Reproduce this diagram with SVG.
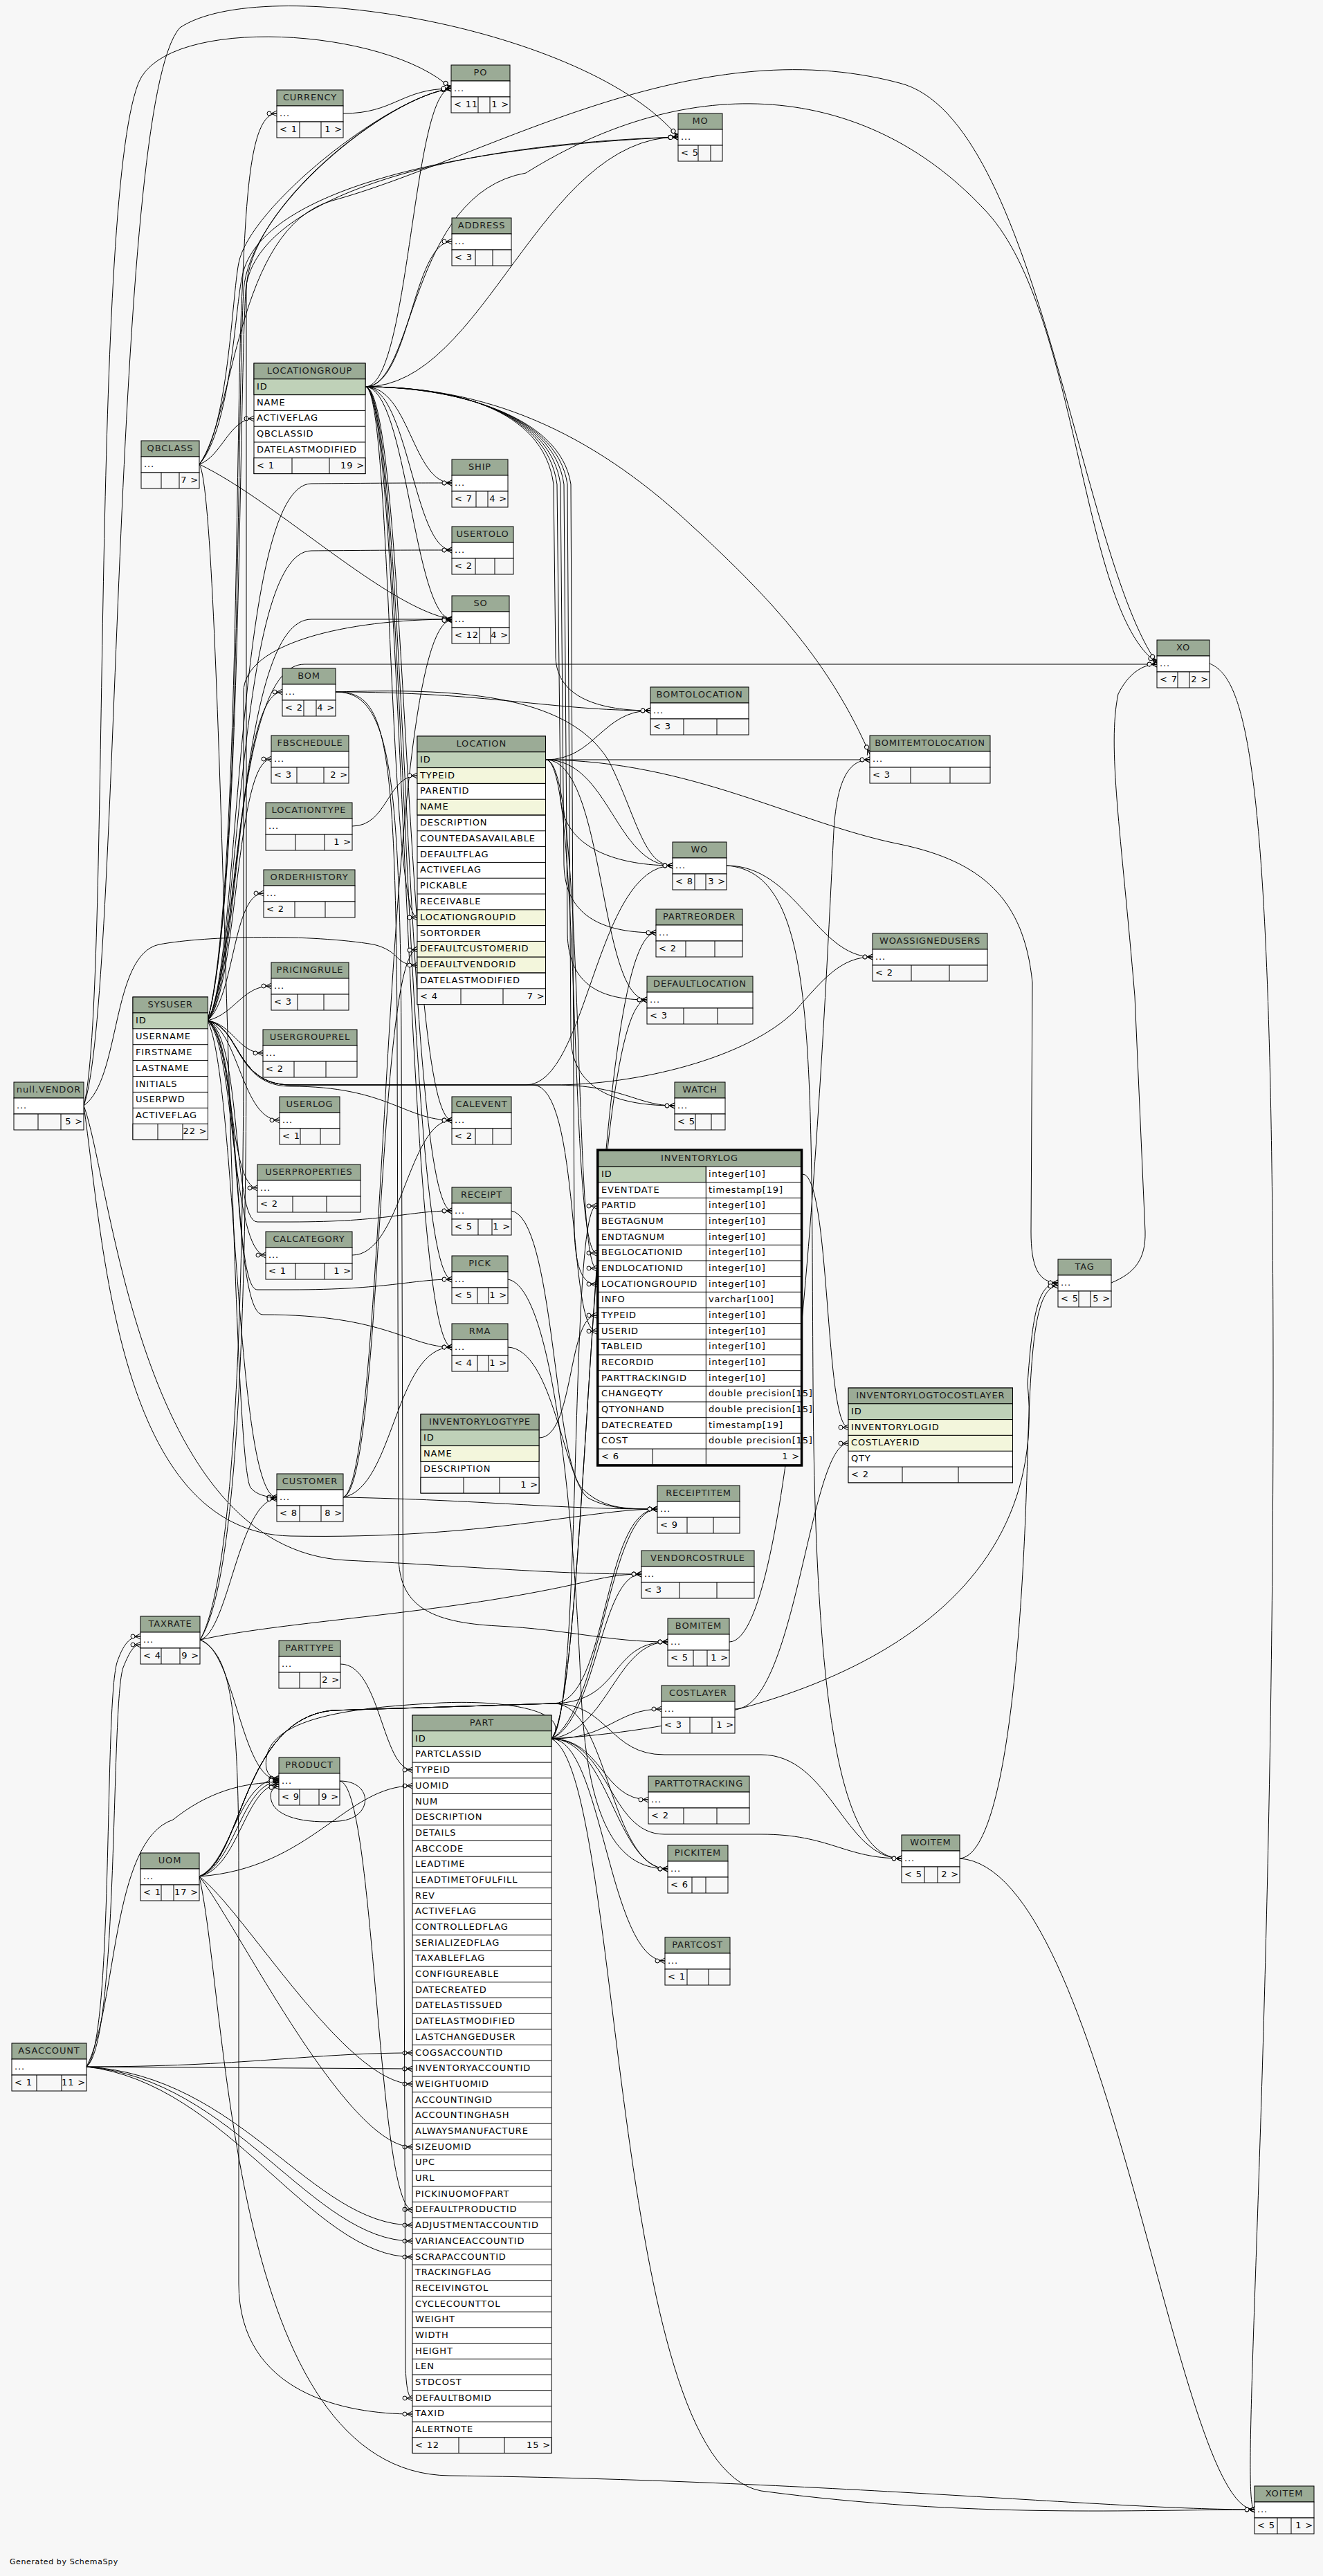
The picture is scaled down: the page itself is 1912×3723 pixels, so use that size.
<svg xmlns="http://www.w3.org/2000/svg" width="1912" height="3723" viewBox="0 0 1912 3723">
<defs>
<style>
.h{fill:#9bab96;stroke:#000}
.k{fill:#bfd1b8;stroke:#000}
.y{fill:#f3f6dc;stroke:#000}
.w{fill:#fff;stroke:#000}
.f{fill:#f7f7f7;stroke:#000}
.d{stroke:#000;fill:none}
text{font-family:"DejaVu Sans","Liberation Sans",sans-serif;font-size:13px;letter-spacing:0.85px;fill:#000}
.n{text-anchor:middle;fill:#1a1a1a}
.r{text-anchor:end}
.e{fill:none;stroke:#000;stroke-width:1;marker-end:url(#cf)}
.bold{fill:none;stroke:#000;stroke-width:3}
</style>
<marker id="cf" viewBox="-15 -6 16 12" refX="0" refY="0" markerWidth="16" markerHeight="12" markerUnits="userSpaceOnUse" orient="auto">
<path d="M-8,0 L0,-4 M-8,0 L0,4 M-8,0 L0,0" stroke="#000" fill="none"/>
<circle cx="-11" cy="0" r="3" fill="#f7f7f7" stroke="#000"/>
</marker>
</defs>
<rect x="0" y="0" width="1912" height="3723" fill="#f7f7f7"/>

<g id="connectors">
<!-- LOCATIONGROUP -->
<path class="e" d="M528,559 C592,559 596,128 652,128"/>
<path class="e" d="M528,559 C700,559 780,198 980,198"/>
<path class="e" d="M528,559 C592,559 596,349 653,349"/>
<path class="e" d="M528,559 C592,559 596,698 653,698"/>
<path class="e" d="M528,559 C590,559 598,795 653,795"/>
<path class="e" d="M528,559 C588,559 598,895 653,895"/>
<path class="e" d="M528,559 C600,559 590,280 760,250 C1000,100 1250,120 1420,300 C1560,440 1560,880 1672,958"/>
<path class="e" d="M528,559 C650,559 790,590 805,700 L810,1150 C812,1230 900,1251 972,1251"/>
<path class="e" d="M528,559 C650,559 795,592 810,700 L815,1250 C817,1330 880,1348 948,1348"/>
<path class="e" d="M528,559 C650,559 800,594 815,700 L820,1350 C822,1425 870,1445 935,1445"/>
<path class="e" d="M528,559 C586,559 585,1750 653,1750"/>
<path class="e" d="M528,559 C584,559 585,1849 653,1849"/>
<path class="e" d="M528,559 C582,559 585,1947 653,1947"/>
<path class="e" d="M528,559 C566,559 562,1326 603,1326"/>
<path class="e" d="M528,559 C650,559 810,598 825,700 L830,1780 C832,1840 845,1856 862,1856"/>
<path class="e" d="M528,559 C650,559 785,588 800,700 L803,950 C805,1010 870,1027 940,1027"/>
<path class="e" d="M528,559 C650,559 805,596 820,700 L825,1500 C827,1580 900,1598 975,1598"/>
<path class="e" d="M528,559 C588,559 585,1619 653,1619"/>
<path class="e" d="M528,559 C700,559 850,620 1000,760 C1120,870 1200,960 1257,1090"/>
<!-- SYSUSER -->
<path class="e" d="M300,1475 C346,1300 340,600 350,420 C356,280 362,164 400,164"/>
<path class="e" d="M300,1475 C348,1300 342,600 352,420 C360,300 560,140 652,128"/>
<path class="e" d="M300,1475 C348,1300 345,600 355,420 C365,300 600,210 980,198"/>
<path class="e" d="M300,1475 C348,1400 342,895 450,895 L653,895"/>
<path class="e" d="M300,1475 C348,1400 340,797 450,796 C560,795 600,795 653,795"/>
<path class="e" d="M300,1475 C348,1400 338,700 450,699 C560,698 600,698 653,698"/>
<path class="e" d="M300,1475 C346,1400 336,960 440,960 L1672,960"/>
<path class="e" d="M300,1475 C346,1420 340,1000 408,1000"/>
<path class="e" d="M300,1475 C344,1430 340,1097 392,1097"/>
<path class="e" d="M300,1475 C340,1440 336,1291 381,1291"/>
<path class="e" d="M300,1475 C340,1465 350,1425 392,1425"/>
<path class="e" d="M300,1475 C336,1480 345,1522 380,1522"/>
<path class="e" d="M300,1475 C345,1490 350,1619 404,1619"/>
<path class="e" d="M300,1475 C338,1500 330,1717 372,1717"/>
<path class="e" d="M300,1475 C340,1510 334,1814 384,1814"/>
<path class="e" d="M300,1475 C348,1485 340,1570 420,1570 C560,1570 585,1619 653,1619"/>
<path class="e" d="M300,1475 C350,1495 335,1766 372,1766 L420,1766 C560,1766 590,1750 653,1750"/>
<path class="e" d="M300,1475 C350,1500 335,1864 372,1864 L420,1864 C560,1864 595,1849 653,1849"/>
<path class="e" d="M300,1475 C350,1510 335,1900 380,1900 C560,1900 590,1947 653,1947"/>
<path class="e" d="M300,1475 C348,1485 340,1568 420,1568 L760,1568 C850,1568 860,1251 972,1251"/>
<path class="e" d="M300,1475 C348,1485 340,1568 420,1568 L800,1568 C920,1568 1080,1530 1150,1460 C1190,1415 1215,1383 1261,1383"/>
<path class="e" d="M300,1475 C348,1485 340,1568 420,1568 L800,1568 C900,1568 920,1598 975,1598"/>
<path class="e" d="M300,1475 C348,1485 340,1568 420,1568 L770,1568 C840,1568 820,1924 862,1924"/>
<path class="e" d="M300,1475 C342,1560 340,2164 400,2164"/>
<!-- QBCLASS -->
<path class="e" d="M288,671 C320,660 332,605 367,605"/>
<path class="e" d="M288,671 C330,620 335,430 345,380 C360,300 560,140 652,128"/>
<path class="e" d="M288,671 C334,620 340,440 350,400 C370,290 600,215 980,198"/>
<path class="e" d="M288,671 C400,725 560,880 653,895"/>
<path class="e" d="M288,671 C340,600 340,330 480,290 C700,230 1000,40 1300,120 C1500,170 1560,800 1672,958"/>
<path class="e" d="M288,671 C322,720 332,2100 362,2150 C370,2160 385,2164 400,2164"/>
<!-- null.VENDOR -->
<path class="e" d="M121,1598 C160,1450 130,300 200,120 C240,20 560,40 652,128"/>
<path class="e" d="M121,1598 C175,1450 160,150 260,40 C380,-40 850,40 980,198"/>
<path class="e" d="M121,1598 C175,1560 160,1380 230,1365 C300,1352 450,1350 540,1365 C580,1375 570,1395 603,1395"/>
<path class="e" d="M121,1598 C160,1700 200,2240 500,2255 C700,2265 800,2275 927,2275"/>
<path class="e" d="M121,1598 C150,1800 170,2215 420,2220 C700,2225 850,2181 950,2181"/>
<!-- LOCATION -->
<path class="e" d="M789,1098 C860,1098 870,1027 940,1027"/>
<path class="e" d="M789,1098 L1257,1098"/>
<path class="e" d="M789,1098 C880,1098 890,1251 972,1251"/>
<path class="e" d="M789,1098 C875,1098 865,1445 935,1445"/>
<path class="e" d="M789,1098 C840,1098 822,1811 862,1811"/>
<path class="e" d="M789,1098 C846,1098 828,1833 862,1833"/>
<path class="e" d="M789,1098 C1000,1100 1150,1190 1300,1220 C1420,1245 1480,1300 1492,1420 L1490,1780 C1490,1830 1500,1854 1529,1854"/>
<!-- PART -->
<path class="e" d="M797,2513 C842,2480 822,1743 862,1743"/>
<path class="e" d="M797,2513 C830,2470 720,2455 620,2462 C520,2468 395,2480 385,2540 C382,2562 390,2570 403,2570"/>
<path class="e" d="M797,2513 C852,2450 852,1348 948,1348"/>
<path class="e" d="M797,2513 C850,2450 850,1445 935,1445"/>
<path class="e" d="M797,2513 C870,2470 880,2181 950,2181"/>
<path class="e" d="M797,2513 C862,2485 868,2275 927,2275"/>
<path class="e" d="M797,2513 C880,2500 890,2373 965,2373"/>
<path class="e" d="M797,2513 C880,2513 890,2470 956,2470"/>
<path class="e" d="M797,2513 C870,2513 870,2601 937,2601"/>
<path class="e" d="M797,2513 C880,2513 890,2701 965,2701"/>
<path class="e" d="M797,2513 C870,2513 880,2834 961,2834"/>
<path class="e" d="M797,2513 C880,2513 880,2651 960,2651 L1100,2651 C1200,2651 1220,2686 1303,2686"/>
<path class="e" d="M797,2513 C900,2560 880,3560 1100,3600 C1400,3640 1650,3627 1813,3627"/>
<path class="e" d="M797,2513 C1150,2490 1520,2350 1485,2000 C1492,1900 1500,1854 1529,1854"/>
<!-- UOM -->
<path class="e" d="M288,2712 C450,2700 500,2581 596,2581"/>
<path class="e" d="M288,2712 C352,2760 500,3012 596,3012"/>
<path class="e" d="M288,2712 C342,2780 500,3103 596,3103"/>
<path class="e" d="M288,2712 C335,2690 345,2571 403,2571"/>
<path class="e" d="M288,2712 C340,2695 350,2575 403,2575"/>
<path class="e" d="M288,2712 C345,2700 355,2579 403,2579"/>
<path class="e" d="M288,2712 C350,2690 350,2485 480,2472 L800,2462 C880,2460 870,2181 950,2181"/>
<path class="e" d="M288,2712 C350,2690 350,2485 480,2472 L800,2462 C900,2460 880,2373 965,2373"/>
<path class="e" d="M288,2712 C350,2690 350,2485 480,2472 L800,2462 C880,2462 880,2701 965,2701"/>
<path class="e" d="M288,2712 C350,2690 350,2485 480,2472 L800,2462 C880,2462 880,2536 960,2536 L1100,2536 C1200,2536 1220,2686 1303,2686"/>
<path class="e" d="M288,2712 C330,2900 330,3575 650,3578 C1200,3585 1600,3627 1813,3627"/>
<!-- ASACCOUNT -->
<path class="e" d="M125,2987 C350,2987 450,2967 596,2967"/>
<path class="e" d="M125,2987 L596,2990"/>
<path class="e" d="M125,2987 C350,3000 450,3216 596,3216"/>
<path class="e" d="M125,2987 C340,3005 450,3239 596,3239"/>
<path class="e" d="M125,2987 C330,3010 450,3262 596,3262"/>
<path class="e" d="M125,2987 C165,2950 150,2450 170,2400 C180,2372 190,2365 203,2365"/>
<path class="e" d="M125,2987 C172,2950 160,2460 178,2410 C188,2385 194,2377 203,2377"/>
<path class="e" d="M125,2987 C170,2900 160,2660 250,2630 C300,2590 350,2576 403,2576"/>
<!-- TAXRATE -->
<path class="e" d="M289,2370 C330,2390 345,2450 345,2700 L345,3300 C345,3460 500,3489 596,3489"/>
<path class="e" d="M289,2370 C330,2360 345,2168 400,2166"/>
<path class="e" d="M289,2370 C340,2385 348,2573 403,2573"/>
<path class="e" d="M289,2370 C330,2300 352,2000 352,1500 L352,1000 C352,930 500,895 653,895"/>
<path class="e" d="M289,2370 C335,2300 356,2000 356,1500 L356,420 C356,300 560,140 652,128"/>
<path class="e" d="M289,2370 C400,2345 600,2335 780,2300 C860,2285 880,2275 927,2275"/>
<!-- PRODUCT -->
<path class="e" d="M491,2574 C542,2580 545,3190 596,3194"/>
<path class="e" d="M491,2574 C540,2574 540,2628 490,2632 C440,2636 398,2626 392,2602 C389,2590 394,2583 403,2582"/>
<!-- CUSTOMER -->
<path class="e" d="M496,2164 C552,2150 545,1378 603,1372"/>
<path class="e" d="M496,2164 C560,2140 552,900 653,896"/>
<path class="e" d="M496,2164 C700,2168 800,2181 950,2181"/>
<path class="e" d="M496,2164 C570,2150 570,1947 653,1947"/>
<!-- misc -->
<path class="e" d="M496,164 C570,164 580,128 652,128"/>
<path class="e" d="M485,1000 C700,1000 800,1027 940,1027"/>
<path class="e" d="M485,1000 C560,1000 578,1100 580,1500 L586,3420 C587,3450 590,3466 596,3466"/>
<path class="e" d="M485,1000 C555,1000 572,1050 574,1500 L576,2250 C577,2320 620,2345 720,2350 C820,2355 880,2373 965,2373"/>
<path class="e" d="M485,1000 C650,995 820,1000 880,1100 C920,1180 930,1251 972,1251"/>
<path class="e" d="M509,1194 C560,1194 560,1121 603,1121"/>
<path class="e" d="M509,1814 C580,1814 590,1619 653,1619"/>
<path class="e" d="M739,1750 C800,1760 800,2100 840,2150 C870,2180 900,2181 950,2181"/>
<path class="e" d="M734,1849 C800,1860 830,2200 840,2450 C850,2650 900,2701 965,2701"/>
<path class="e" d="M734,1947 C800,1950 815,2140 850,2165 C880,2181 910,2181 950,2181"/>
<path class="e" d="M779,2078 C830,2078 820,1901 862,1901"/>
<path class="e" d="M1160,1697 C1200,1697 1192,2063 1226,2063"/>
<path class="e" d="M1062,2470 C1150,2470 1170,2086 1226,2086"/>
<path class="e" d="M492,2405 C550,2405 552,2558 596,2558"/>
<path class="e" d="M1054,2373 C1150,2373 1190,1500 1205,1200 C1210,1120 1230,1098 1257,1098"/>
<path class="e" d="M1050,1251 C1150,1251 1180,1383 1261,1383"/>
<path class="e" d="M1050,1251 C1180,1260 1172,1500 1175,2000 C1178,2500 1220,2686 1303,2686"/>
<path class="e" d="M1606,1854 C1640,1840 1656,1820 1655,1780 L1640,1440 C1620,1200 1600,1080 1616,1003 C1630,975 1650,960 1672,960"/>
<path class="e" d="M1387,2686 C1600,2700 1700,3627 1813,3627"/>
<path class="e" d="M1387,2686 C1460,2680 1480,2300 1485,2100 C1490,1950 1495,1860 1529,1858"/>
<path class="e" d="M1748,959 C1800,980 1840,1100 1840,2000 C1840,3000 1790,3627 1813,3627"/>
</g>

<g id="node-PO"><rect class="h" x="652" y="94" width="85" height="23"/><rect class="w" x="652" y="117" width="85" height="23"/><rect class="f" x="652" y="140" width="85" height="23"/><path class="d" d="M691,140v23M708,140v23"/><text class="n" x="694.5" y="109">PO</text><text x="656" y="132">...</text><text x="656" y="155">&lt; 11</text><text class="r" x="736" y="155">1 &gt;</text></g>
<g id="node-CURRENCY"><rect class="h" x="400" y="130" width="96" height="23"/><rect class="w" x="400" y="153" width="96" height="23"/><rect class="f" x="400" y="176" width="96" height="23"/><path class="d" d="M433,176v23M464,176v23"/><text class="n" x="448" y="145">CURRENCY</text><text x="404" y="168">...</text><text x="404" y="191">&lt; 1</text><text class="r" x="495" y="191">1 &gt;</text></g>
<g id="node-MO"><rect class="h" x="980" y="164" width="64" height="23"/><rect class="w" x="980" y="187" width="64" height="23"/><rect class="f" x="980" y="210" width="64" height="23"/><path class="d" d="M1009,210v23M1027,210v23"/><text class="n" x="1012" y="179">MO</text><text x="984" y="202">...</text><text x="984" y="225">&lt; 5</text></g>
<g id="node-ADDRESS"><rect class="h" x="653" y="315" width="86" height="23"/><rect class="w" x="653" y="338" width="86" height="23"/><rect class="f" x="653" y="361" width="86" height="23"/><path class="d" d="M687,361v23M712,361v23"/><text class="n" x="696" y="330">ADDRESS</text><text x="657" y="353">...</text><text x="657" y="376">&lt; 3</text></g>
<g id="node-QBCLASS"><rect class="h" x="204" y="637" width="84" height="23"/><rect class="w" x="204" y="660" width="84" height="23"/><rect class="f" x="204" y="683" width="84" height="23"/><path class="d" d="M233,683v23M259,683v23"/><text class="n" x="246" y="652">QBCLASS</text><text x="208" y="675">...</text><text class="r" x="287" y="698">7 &gt;</text></g>
<g id="node-SHIP"><rect class="h" x="653" y="664" width="81" height="23"/><rect class="w" x="653" y="687" width="81" height="23"/><rect class="f" x="653" y="710" width="81" height="23"/><path class="d" d="M688,710v23M705,710v23"/><text class="n" x="693.5" y="679">SHIP</text><text x="657" y="702">...</text><text x="657" y="725">&lt; 7</text><text class="r" x="733" y="725">4 &gt;</text></g>
<g id="node-USERTOLO"><rect class="h" x="653" y="761" width="89" height="23"/><rect class="w" x="653" y="784" width="89" height="23"/><rect class="f" x="653" y="807" width="89" height="23"/><path class="d" d="M687,807v23M715,807v23"/><text class="n" x="697.5" y="776">USERTOLO</text><text x="657" y="799">...</text><text x="657" y="822">&lt; 2</text></g>
<g id="node-SO"><rect class="h" x="653" y="861" width="83" height="23"/><rect class="w" x="653" y="884" width="83" height="23"/><rect class="f" x="653" y="907" width="83" height="23"/><path class="d" d="M693,907v23M709,907v23"/><text class="n" x="694.5" y="876">SO</text><text x="657" y="899">...</text><text x="657" y="922">&lt; 12</text><text class="r" x="735" y="922">4 &gt;</text></g>
<g id="node-XO"><rect class="h" x="1672" y="925" width="76" height="23"/><rect class="w" x="1672" y="948" width="76" height="23"/><rect class="f" x="1672" y="971" width="76" height="23"/><path class="d" d="M1702,971v23M1719,971v23"/><text class="n" x="1710" y="940">XO</text><text x="1676" y="963">...</text><text x="1676" y="986">&lt; 7</text><text class="r" x="1747" y="986">2 &gt;</text></g>
<g id="node-BOM"><rect class="h" x="408" y="966" width="77" height="23"/><rect class="w" x="408" y="989" width="77" height="23"/><rect class="f" x="408" y="1012" width="77" height="23"/><path class="d" d="M439,1012v23M457,1012v23"/><text class="n" x="446.5" y="981">BOM</text><text x="412" y="1004">...</text><text x="412" y="1027">&lt; 2</text><text class="r" x="484" y="1027">4 &gt;</text></g>
<g id="node-BOMTOLOCATION"><rect class="h" x="940" y="993" width="142" height="23"/><rect class="w" x="940" y="1016" width="142" height="23"/><rect class="f" x="940" y="1039" width="142" height="23"/><path class="d" d="M988,1039v23M1036,1039v23"/><text class="n" x="1011" y="1008">BOMTOLOCATION</text><text x="944" y="1031">...</text><text x="944" y="1054">&lt; 3</text></g>
<g id="node-FBSCHEDULE"><rect class="h" x="392" y="1063" width="112" height="23"/><rect class="w" x="392" y="1086" width="112" height="23"/><rect class="f" x="392" y="1109" width="112" height="23"/><path class="d" d="M429,1109v23M468,1109v23"/><text class="n" x="448" y="1078">FBSCHEDULE</text><text x="396" y="1101">...</text><text x="396" y="1124">&lt; 3</text><text class="r" x="503" y="1124">2 &gt;</text></g>
<g id="node-BOMITEMTOLOCATION"><rect class="h" x="1257" y="1063" width="174" height="23"/><rect class="w" x="1257" y="1086" width="174" height="23"/><rect class="f" x="1257" y="1109" width="174" height="23"/><path class="d" d="M1316,1109v23M1373,1109v23"/><text class="n" x="1344" y="1078">BOMITEMTOLOCATION</text><text x="1261" y="1101">...</text><text x="1261" y="1124">&lt; 3</text></g>
<g id="node-LOCATIONTYPE"><rect class="h" x="384" y="1160" width="125" height="23"/><rect class="w" x="384" y="1183" width="125" height="23"/><rect class="f" x="384" y="1206" width="125" height="23"/><path class="d" d="M427,1206v23M469,1206v23"/><text class="n" x="446.5" y="1175">LOCATIONTYPE</text><text x="388" y="1198">...</text><text class="r" x="508" y="1221">1 &gt;</text></g>
<g id="node-WO"><rect class="h" x="972" y="1217" width="78" height="23"/><rect class="w" x="972" y="1240" width="78" height="23"/><rect class="f" x="972" y="1263" width="78" height="23"/><path class="d" d="M1004,1263v23M1020,1263v23"/><text class="n" x="1011" y="1232">WO</text><text x="976" y="1255">...</text><text x="976" y="1278">&lt; 8</text><text class="r" x="1049" y="1278">3 &gt;</text></g>
<g id="node-ORDERHISTORY"><rect class="h" x="381" y="1257" width="132" height="23"/><rect class="w" x="381" y="1280" width="132" height="23"/><rect class="f" x="381" y="1303" width="132" height="23"/><path class="d" d="M426,1303v23M470,1303v23"/><text class="n" x="447" y="1272">ORDERHISTORY</text><text x="385" y="1295">...</text><text x="385" y="1318">&lt; 2</text></g>
<g id="node-PARTREORDER"><rect class="h" x="948" y="1314" width="125" height="23"/><rect class="w" x="948" y="1337" width="125" height="23"/><rect class="f" x="948" y="1360" width="125" height="23"/><path class="d" d="M991,1360v23M1033,1360v23"/><text class="n" x="1010.5" y="1329">PARTREORDER</text><text x="952" y="1352">...</text><text x="952" y="1375">&lt; 2</text></g>
<g id="node-WOASSIGNEDUSERS"><rect class="h" x="1261" y="1349" width="166" height="23"/><rect class="w" x="1261" y="1372" width="166" height="23"/><rect class="f" x="1261" y="1395" width="166" height="23"/><path class="d" d="M1317,1395v23M1372,1395v23"/><text class="n" x="1344" y="1364">WOASSIGNEDUSERS</text><text x="1265" y="1387">...</text><text x="1265" y="1410">&lt; 2</text></g>
<g id="node-PRICINGRULE"><rect class="h" x="392" y="1391" width="112" height="23"/><rect class="w" x="392" y="1414" width="112" height="23"/><rect class="f" x="392" y="1437" width="112" height="23"/><path class="d" d="M430,1437v23M468,1437v23"/><text class="n" x="448" y="1406">PRICINGRULE</text><text x="396" y="1429">...</text><text x="396" y="1452">&lt; 3</text></g>
<g id="node-DEFAULTLOCATION"><rect class="h" x="935" y="1411" width="153" height="23"/><rect class="w" x="935" y="1434" width="153" height="23"/><rect class="f" x="935" y="1457" width="153" height="23"/><path class="d" d="M988,1457v23M1037,1457v23"/><text class="n" x="1011.5" y="1426">DEFAULTLOCATION</text><text x="939" y="1449">...</text><text x="939" y="1472">&lt; 3</text></g>
<g id="node-USERGROUPREL"><rect class="h" x="380" y="1488" width="136" height="23"/><rect class="w" x="380" y="1511" width="136" height="23"/><rect class="f" x="380" y="1534" width="136" height="23"/><path class="d" d="M425,1534v23M471,1534v23"/><text class="n" x="448" y="1503">USERGROUPREL</text><text x="384" y="1526">...</text><text x="384" y="1549">&lt; 2</text></g>
<g id="node-null.VENDOR"><rect class="h" x="20" y="1564" width="101" height="23"/><rect class="w" x="20" y="1587" width="101" height="23"/><rect class="f" x="20" y="1610" width="101" height="23"/><path class="d" d="M55,1610v23M88,1610v23"/><text class="n" x="70.5" y="1579">null.VENDOR</text><text x="24" y="1602">...</text><text class="r" x="120" y="1625">5 &gt;</text></g>
<g id="node-WATCH"><rect class="h" x="975" y="1564" width="73" height="23"/><rect class="w" x="975" y="1587" width="73" height="23"/><rect class="f" x="975" y="1610" width="73" height="23"/><path class="d" d="M1005,1610v23M1028,1610v23"/><text class="n" x="1011.5" y="1579">WATCH</text><text x="979" y="1602">...</text><text x="979" y="1625">&lt; 5</text></g>
<g id="node-USERLOG"><rect class="h" x="404" y="1585" width="87" height="23"/><rect class="w" x="404" y="1608" width="87" height="23"/><rect class="f" x="404" y="1631" width="87" height="23"/><path class="d" d="M434,1631v23M463,1631v23"/><text class="n" x="447.5" y="1600">USERLOG</text><text x="408" y="1623">...</text><text x="408" y="1646">&lt; 1</text></g>
<g id="node-CALEVENT"><rect class="h" x="653" y="1585" width="86" height="23"/><rect class="w" x="653" y="1608" width="86" height="23"/><rect class="f" x="653" y="1631" width="86" height="23"/><path class="d" d="M687,1631v23M712,1631v23"/><text class="n" x="696" y="1600">CALEVENT</text><text x="657" y="1623">...</text><text x="657" y="1646">&lt; 2</text></g>
<g id="node-USERPROPERTIES"><rect class="h" x="372" y="1683" width="149" height="23"/><rect class="w" x="372" y="1706" width="149" height="23"/><rect class="f" x="372" y="1729" width="149" height="23"/><path class="d" d="M423,1729v23M472,1729v23"/><text class="n" x="446.5" y="1698">USERPROPERTIES</text><text x="376" y="1721">...</text><text x="376" y="1744">&lt; 2</text></g>
<g id="node-RECEIPT"><rect class="h" x="653" y="1716" width="86" height="23"/><rect class="w" x="653" y="1739" width="86" height="23"/><rect class="f" x="653" y="1762" width="86" height="23"/><path class="d" d="M691,1762v23M711,1762v23"/><text class="n" x="696" y="1731">RECEIPT</text><text x="657" y="1754">...</text><text x="657" y="1777">&lt; 5</text><text class="r" x="738" y="1777">1 &gt;</text></g>
<g id="node-CALCATEGORY"><rect class="h" x="384" y="1780" width="125" height="23"/><rect class="w" x="384" y="1803" width="125" height="23"/><rect class="f" x="384" y="1826" width="125" height="23"/><path class="d" d="M427,1826v23M469,1826v23"/><text class="n" x="446.5" y="1795">CALCATEGORY</text><text x="388" y="1818">...</text><text x="388" y="1841">&lt; 1</text><text class="r" x="508" y="1841">1 &gt;</text></g>
<g id="node-PICK"><rect class="h" x="653" y="1815" width="81" height="23"/><rect class="w" x="653" y="1838" width="81" height="23"/><rect class="f" x="653" y="1861" width="81" height="23"/><path class="d" d="M690,1861v23M706,1861v23"/><text class="n" x="693.5" y="1830">PICK</text><text x="657" y="1853">...</text><text x="657" y="1876">&lt; 5</text><text class="r" x="733" y="1876">1 &gt;</text></g>
<g id="node-RMA"><rect class="h" x="653" y="1913" width="81" height="23"/><rect class="w" x="653" y="1936" width="81" height="23"/><rect class="f" x="653" y="1959" width="81" height="23"/><path class="d" d="M690,1959v23M706,1959v23"/><text class="n" x="693.5" y="1928">RMA</text><text x="657" y="1951">...</text><text x="657" y="1974">&lt; 4</text><text class="r" x="733" y="1974">1 &gt;</text></g>
<g id="node-TAG"><rect class="h" x="1529" y="1820" width="77" height="23"/><rect class="w" x="1529" y="1843" width="77" height="23"/><rect class="f" x="1529" y="1866" width="77" height="23"/><path class="d" d="M1559,1866v23M1576,1866v23"/><text class="n" x="1567.5" y="1835">TAG</text><text x="1533" y="1858">...</text><text x="1533" y="1881">&lt; 5</text><text class="r" x="1605" y="1881">5 &gt;</text></g>
<g id="node-CUSTOMER"><rect class="h" x="400" y="2130" width="96" height="23"/><rect class="w" x="400" y="2153" width="96" height="23"/><rect class="f" x="400" y="2176" width="96" height="23"/><path class="d" d="M433,2176v23M464,2176v23"/><text class="n" x="448" y="2145">CUSTOMER</text><text x="404" y="2168">...</text><text x="404" y="2191">&lt; 8</text><text class="r" x="495" y="2191">8 &gt;</text></g>
<g id="node-RECEIPTITEM"><rect class="h" x="950" y="2147" width="119" height="23"/><rect class="w" x="950" y="2170" width="119" height="23"/><rect class="f" x="950" y="2193" width="119" height="23"/><path class="d" d="M993,2193v23M1031,2193v23"/><text class="n" x="1009.5" y="2162">RECEIPTITEM</text><text x="954" y="2185">...</text><text x="954" y="2208">&lt; 9</text></g>
<g id="node-VENDORCOSTRULE"><rect class="h" x="927" y="2241" width="163" height="23"/><rect class="w" x="927" y="2264" width="163" height="23"/><rect class="f" x="927" y="2287" width="163" height="23"/><path class="d" d="M982,2287v23M1036,2287v23"/><text class="n" x="1008.5" y="2256">VENDORCOSTRULE</text><text x="931" y="2279">...</text><text x="931" y="2302">&lt; 3</text></g>
<g id="node-TAXRATE"><rect class="h" x="203" y="2336" width="86" height="23"/><rect class="w" x="203" y="2359" width="86" height="23"/><rect class="f" x="203" y="2382" width="86" height="23"/><path class="d" d="M233,2382v23M260,2382v23"/><text class="n" x="246" y="2351">TAXRATE</text><text x="207" y="2374">...</text><text x="207" y="2397">&lt; 4</text><text class="r" x="288" y="2397">9 &gt;</text></g>
<g id="node-BOMITEM"><rect class="h" x="965" y="2339" width="89" height="23"/><rect class="w" x="965" y="2362" width="89" height="23"/><rect class="f" x="965" y="2385" width="89" height="23"/><path class="d" d="M1002,2385v23M1022,2385v23"/><text class="n" x="1009.5" y="2354">BOMITEM</text><text x="969" y="2377">...</text><text x="969" y="2400">&lt; 5</text><text class="r" x="1053" y="2400">1 &gt;</text></g>
<g id="node-PARTTYPE"><rect class="h" x="403" y="2371" width="89" height="23"/><rect class="w" x="403" y="2394" width="89" height="23"/><rect class="f" x="403" y="2417" width="89" height="23"/><path class="d" d="M433,2417v23M463,2417v23"/><text class="n" x="447.5" y="2386">PARTTYPE</text><text x="407" y="2409">...</text><text class="r" x="491" y="2432">2 &gt;</text></g>
<g id="node-COSTLAYER"><rect class="h" x="956" y="2436" width="106" height="23"/><rect class="w" x="956" y="2459" width="106" height="23"/><rect class="f" x="956" y="2482" width="106" height="23"/><path class="d" d="M997,2482v23M1029,2482v23"/><text class="n" x="1009" y="2451">COSTLAYER</text><text x="960" y="2474">...</text><text x="960" y="2497">&lt; 3</text><text class="r" x="1061" y="2497">1 &gt;</text></g>
<g id="node-PRODUCT"><rect class="h" x="403" y="2540" width="88" height="23"/><rect class="w" x="403" y="2563" width="88" height="23"/><rect class="f" x="403" y="2586" width="88" height="23"/><path class="d" d="M433,2586v23M461,2586v23"/><text class="n" x="447" y="2555">PRODUCT</text><text x="407" y="2578">...</text><text x="407" y="2601">&lt; 9</text><text class="r" x="490" y="2601">9 &gt;</text></g>
<g id="node-PARTTOTRACKING"><rect class="h" x="937" y="2567" width="146" height="23"/><rect class="w" x="937" y="2590" width="146" height="23"/><rect class="f" x="937" y="2613" width="146" height="23"/><path class="d" d="M988,2613v23M1036,2613v23"/><text class="n" x="1010" y="2582">PARTTOTRACKING</text><text x="941" y="2605">...</text><text x="941" y="2628">&lt; 2</text></g>
<g id="node-UOM"><rect class="h" x="203" y="2678" width="85" height="23"/><rect class="w" x="203" y="2701" width="85" height="23"/><rect class="f" x="203" y="2724" width="85" height="23"/><path class="d" d="M233,2724v23M251,2724v23"/><text class="n" x="245.5" y="2693">UOM</text><text x="207" y="2716">...</text><text x="207" y="2739">&lt; 1</text><text class="r" x="287" y="2739">17 &gt;</text></g>
<g id="node-PICKITEM"><rect class="h" x="965" y="2667" width="87" height="23"/><rect class="w" x="965" y="2690" width="87" height="23"/><rect class="f" x="965" y="2713" width="87" height="23"/><path class="d" d="M1000,2713v23M1020,2713v23"/><text class="n" x="1008.5" y="2682">PICKITEM</text><text x="969" y="2705">...</text><text x="969" y="2728">&lt; 6</text></g>
<g id="node-WOITEM"><rect class="h" x="1303" y="2652" width="84" height="23"/><rect class="w" x="1303" y="2675" width="84" height="23"/><rect class="f" x="1303" y="2698" width="84" height="23"/><path class="d" d="M1336,2698v23M1355,2698v23"/><text class="n" x="1345" y="2667">WOITEM</text><text x="1307" y="2690">...</text><text x="1307" y="2713">&lt; 5</text><text class="r" x="1386" y="2713">2 &gt;</text></g>
<g id="node-PARTCOST"><rect class="h" x="961" y="2800" width="94" height="23"/><rect class="w" x="961" y="2823" width="94" height="23"/><rect class="f" x="961" y="2846" width="94" height="23"/><path class="d" d="M993,2846v23M1024,2846v23"/><text class="n" x="1008" y="2815">PARTCOST</text><text x="965" y="2838">...</text><text x="965" y="2861">&lt; 1</text></g>
<g id="node-ASACCOUNT"><rect class="h" x="17" y="2953" width="108" height="23"/><rect class="w" x="17" y="2976" width="108" height="23"/><rect class="f" x="17" y="2999" width="108" height="23"/><path class="d" d="M53,2999v23M89,2999v23"/><text class="n" x="71" y="2968">ASACCOUNT</text><text x="21" y="2991">...</text><text x="21" y="3014">&lt; 1</text><text class="r" x="124" y="3014">11 &gt;</text></g>
<g id="node-XOITEM"><rect class="h" x="1813" y="3593" width="86" height="23"/><rect class="w" x="1813" y="3616" width="86" height="23"/><rect class="f" x="1813" y="3639" width="86" height="23"/><path class="d" d="M1846,3639v23M1866,3639v23"/><text class="n" x="1856" y="3608">XOITEM</text><text x="1817" y="3631">...</text><text x="1817" y="3654">&lt; 5</text><text class="r" x="1898" y="3654">1 &gt;</text></g>

<g id="node-LOCATIONGROUP">
<rect class="w" x="367" y="525" width="161" height="159.6"/>
<rect class="h" x="367" y="525" width="161" height="22.8"/>
<rect class="k" x="367" y="547.8" width="161" height="22.8"/>
<rect class="f" x="367" y="661.8" width="161" height="22.8"/>
<path class="d" d="M367,570.6h161M367,593.4h161M367,616.2h161M367,639h161M422,661.8v22.8M476,661.8v22.8"/>
<text class="n" x="447.5" y="540">LOCATIONGROUP</text>
<text x="371" y="562.8">ID</text><text x="371" y="585.6">NAME</text><text x="371" y="608.4">ACTIVEFLAG</text><text x="371" y="631.2">QBCLASSID</text><text x="371" y="654">DATELASTMODIFIED</text>
<text x="371" y="676.8">&lt; 1</text><text class="r" x="527" y="676.8">19 &gt;</text>
</g>

<g id="node-LOCATION">
<rect class="w" x="603" y="1064" width="185.5" height="387.6"/>
<rect class="h" x="603" y="1064" width="185.5" height="22.8"/>
<rect class="k" x="603" y="1086.8" width="185.5" height="22.8"/>
<rect class="y" x="603" y="1109.6" width="185.5" height="22.8"/>
<rect class="y" x="603" y="1155.2" width="185.5" height="22.8"/>
<rect class="y" x="603" y="1314.8" width="185.5" height="22.8"/>
<rect class="y" x="603" y="1360.4" width="185.5" height="22.8"/>
<rect class="y" x="603" y="1383.2" width="185.5" height="22.8"/>
<rect class="f" x="603" y="1428.8" width="185.5" height="22.8"/>
<path class="d" d="M603,1132.4h185.5M603,1178h185.5M603,1200.8h185.5M603,1223.6h185.5M603,1246.4h185.5M603,1269.2h185.5M603,1292h185.5M603,1337.6h185.5M603,1406h185.5M666,1428.8v22.8M727,1428.8v22.8"/>
<text class="n" x="695.75" y="1079">LOCATION</text>
<text x="607" y="1101.8">ID</text>
<text x="607" y="1124.6">TYPEID</text>
<text x="607" y="1147.4">PARENTID</text>
<text x="607" y="1170.2">NAME</text>
<text x="607" y="1193">DESCRIPTION</text>
<text x="607" y="1215.8">COUNTEDASAVAILABLE</text>
<text x="607" y="1238.6">DEFAULTFLAG</text>
<text x="607" y="1261.4">ACTIVEFLAG</text>
<text x="607" y="1284.2">PICKABLE</text>
<text x="607" y="1307">RECEIVABLE</text>
<text x="607" y="1329.8">LOCATIONGROUPID</text>
<text x="607" y="1352.6">SORTORDER</text>
<text x="607" y="1375.4">DEFAULTCUSTOMERID</text>
<text x="607" y="1398.2">DEFAULTVENDORID</text>
<text x="607" y="1421">DATELASTMODIFIED</text>
<text x="607" y="1443.8">&lt; 4</text><text class="r" x="787.5" y="1443.8">7 &gt;</text>
</g>

<g id="node-SYSUSER">
<rect class="w" x="192" y="1441" width="108.5" height="206.1"/>
<rect class="h" x="192" y="1441" width="108.5" height="22.9"/>
<rect class="k" x="192" y="1463.9" width="108.5" height="22.9"/>
<rect class="f" x="192" y="1624.2" width="108.5" height="22.9"/>
<path class="d" d="M192,1509.7h108.5M192,1532.6h108.5M192,1555.5h108.5M192,1578.4h108.5M192,1601.3h108.5M228,1624.2v22.9M264,1624.2v22.9"/>
<text class="n" x="246.25" y="1456">SYSUSER</text>
<text x="196" y="1478.9">ID</text>
<text x="196" y="1501.8">USERNAME</text>
<text x="196" y="1524.7">FIRSTNAME</text>
<text x="196" y="1547.6">LASTNAME</text>
<text x="196" y="1570.5">INITIALS</text>
<text x="196" y="1593.4">USERPWD</text>
<text x="196" y="1616.3">ACTIVEFLAG</text>
<text class="r" x="299.5" y="1639.2">22 &gt;</text>
</g>

<g id="node-INVENTORYLOG">
<rect class="w" x="865" y="1663.3" width="292.3" height="453.4"/>
<rect class="h" x="865" y="1663.3" width="292.3" height="22.7"/>
<rect class="k" x="865" y="1686" width="155.3" height="22.6"/>
<rect class="f" x="865" y="2094" width="292.3" height="22.7"/>
<path class="d" d="M865,1708.6h292.3M865,1731.3h292.3M865,1754h292.3M865,1776.7h292.3M865,1799.3h292.3M865,1822h292.3M865,1844.7h292.3M865,1867.3h292.3M865,1890h292.3M865,1912.7h292.3M865,1935.3h292.3M865,1958h292.3M865,1980.7h292.3M865,2003.3h292.3M865,2026h292.3M865,2048.7h292.3M865,2071.3h292.3M1020.3,1686V2116.7M943.3,2094v22.7"/>
<rect class="bold" x="863.5" y="1661.8" width="295.3" height="456.4"/>
<text class="n" x="1011" y="1678.3">INVENTORYLOG</text>
<text x="869" y="1701">ID</text><text x="1024" y="1701">integer[10]</text>
<text x="869" y="1723.6">EVENTDATE</text><text x="1024" y="1723.6">timestamp[19]</text>
<text x="869" y="1746.3">PARTID</text><text x="1024" y="1746.3">integer[10]</text>
<text x="869" y="1769">BEGTAGNUM</text><text x="1024" y="1769">integer[10]</text>
<text x="869" y="1791.7">ENDTAGNUM</text><text x="1024" y="1791.7">integer[10]</text>
<text x="869" y="1814.3">BEGLOCATIONID</text><text x="1024" y="1814.3">integer[10]</text>
<text x="869" y="1837">ENDLOCATIONID</text><text x="1024" y="1837">integer[10]</text>
<text x="869" y="1859.7">LOCATIONGROUPID</text><text x="1024" y="1859.7">integer[10]</text>
<text x="869" y="1882.3">INFO</text><text x="1024" y="1882.3">varchar[100]</text>
<text x="869" y="1905">TYPEID</text><text x="1024" y="1905">integer[10]</text>
<text x="869" y="1927.7">USERID</text><text x="1024" y="1927.7">integer[10]</text>
<text x="869" y="1950.3">TABLEID</text><text x="1024" y="1950.3">integer[10]</text>
<text x="869" y="1973">RECORDID</text><text x="1024" y="1973">integer[10]</text>
<text x="869" y="1995.7">PARTTRACKINGID</text><text x="1024" y="1995.7">integer[10]</text>
<text x="869" y="2018.3">CHANGEQTY</text><text x="1024" y="2018.3">double precision[15]</text>
<text x="869" y="2041">QTYONHAND</text><text x="1024" y="2041">double precision[15]</text>
<text x="869" y="2063.7">DATECREATED</text><text x="1024" y="2063.7">timestamp[19]</text>
<text x="869" y="2086.3">COST</text><text x="1024" y="2086.3">double precision[15]</text>
<text x="869" y="2109">&lt; 6</text><text class="r" x="1156" y="2109">1 &gt;</text>
</g>

<g id="node-INVENTORYLOGTOCOSTLAYER">
<rect class="w" x="1226" y="2006" width="237.5" height="136.8"/>
<rect class="h" x="1226" y="2006" width="237.5" height="22.8"/>
<rect class="k" x="1226" y="2028.8" width="237.5" height="22.8"/>
<rect class="y" x="1226" y="2051.6" width="237.5" height="22.8"/>
<rect class="y" x="1226" y="2074.4" width="237.5" height="22.8"/>
<rect class="f" x="1226" y="2120" width="237.5" height="22.8"/>
<path class="d" d="M1304,2120v22.8M1385,2120v22.8"/>
<text class="n" x="1344.75" y="2021">INVENTORYLOGTOCOSTLAYER</text>
<text x="1230" y="2043.8">ID</text>
<text x="1230" y="2066.6">INVENTORYLOGID</text>
<text x="1230" y="2089.4">COSTLAYERID</text>
<text x="1230" y="2112.2">QTY</text>
<text x="1230" y="2135">&lt; 2</text>
</g>

<g id="node-INVENTORYLOGTYPE">
<rect class="w" x="608" y="2044" width="171" height="114"/>
<rect class="h" x="608" y="2044" width="171" height="22.8"/>
<rect class="k" x="608" y="2066.8" width="171" height="22.8"/>
<rect class="y" x="608" y="2089.6" width="171" height="22.8"/>
<rect class="f" x="608" y="2135.2" width="171" height="22.8"/>
<path class="d" d="M670,2135.2v22.8M722,2135.2v22.8"/>
<text class="n" x="693.5" y="2059">INVENTORYLOGTYPE</text>
<text x="612" y="2081.8">ID</text>
<text x="612" y="2104.6">NAME</text>
<text x="612" y="2127.4">DESCRIPTION</text>
<text class="r" x="778" y="2150.2">1 &gt;</text>
</g>

<g id="node-PART">
<rect class="w" x="596" y="2479" width="201" height="1066.4"/>
<rect class="h" x="596" y="2479" width="201" height="22.7"/>
<rect class="k" x="596" y="2501.7" width="201" height="22.7"/>
<rect class="f" x="596" y="3522.7" width="201" height="22.7"/>
<path class="d" d="M596,2547.1h201M596,2569.8h201M596,2592.5h201M596,2615.1h201M596,2637.8h201M596,2660.5h201M596,2683.2h201M596,2705.9h201M596,2728.6h201M596,2751.3h201M596,2774h201M596,2796.7h201M596,2819.4h201M596,2842h201M596,2864.7h201M596,2887.4h201M596,2910.1h201M596,2932.8h201M596,2955.5h201M596,2978.2h201M596,3000.9h201M596,3023.6h201M596,3046.3h201M596,3068.9h201M596,3091.6h201M596,3114.3h201M596,3137h201M596,3159.7h201M596,3182.4h201M596,3205.1h201M596,3227.8h201M596,3250.5h201M596,3273.2h201M596,3295.8h201M596,3318.5h201M596,3341.2h201M596,3363.9h201M596,3386.6h201M596,3409.3h201M596,3432h201M596,3454.7h201M596,3477.4h201M596,3500.1h201M663,3522.7v22.7M729,3522.7v22.7"/>
<text class="n" x="696.5" y="2494">PART</text>
<text x="600" y="2516.7">ID</text>
<text x="600" y="2539.4">PARTCLASSID</text>
<text x="600" y="2562.1">TYPEID</text>
<text x="600" y="2584.8">UOMID</text>
<text x="600" y="2607.5">NUM</text>
<text x="600" y="2630.1">DESCRIPTION</text>
<text x="600" y="2652.8">DETAILS</text>
<text x="600" y="2675.5">ABCCODE</text>
<text x="600" y="2698.2">LEADTIME</text>
<text x="600" y="2720.9">LEADTIMETOFULFILL</text>
<text x="600" y="2743.6">REV</text>
<text x="600" y="2766.3">ACTIVEFLAG</text>
<text x="600" y="2789">CONTROLLEDFLAG</text>
<text x="600" y="2811.7">SERIALIZEDFLAG</text>
<text x="600" y="2834.4">TAXABLEFLAG</text>
<text x="600" y="2857">CONFIGUREABLE</text>
<text x="600" y="2879.7">DATECREATED</text>
<text x="600" y="2902.4">DATELASTISSUED</text>
<text x="600" y="2925.1">DATELASTMODIFIED</text>
<text x="600" y="2947.8">LASTCHANGEDUSER</text>
<text x="600" y="2970.5">COGSACCOUNTID</text>
<text x="600" y="2993.2">INVENTORYACCOUNTID</text>
<text x="600" y="3015.9">WEIGHTUOMID</text>
<text x="600" y="3038.6">ACCOUNTINGID</text>
<text x="600" y="3061.3">ACCOUNTINGHASH</text>
<text x="600" y="3083.9">ALWAYSMANUFACTURE</text>
<text x="600" y="3106.6">SIZEUOMID</text>
<text x="600" y="3129.3">UPC</text>
<text x="600" y="3152">URL</text>
<text x="600" y="3174.7">PICKINUOMOFPART</text>
<text x="600" y="3197.4">DEFAULTPRODUCTID</text>
<text x="600" y="3220.1">ADJUSTMENTACCOUNTID</text>
<text x="600" y="3242.8">VARIANCEACCOUNTID</text>
<text x="600" y="3265.5">SCRAPACCOUNTID</text>
<text x="600" y="3288.2">TRACKINGFLAG</text>
<text x="600" y="3310.8">RECEIVINGTOL</text>
<text x="600" y="3333.5">CYCLECOUNTTOL</text>
<text x="600" y="3356.2">WEIGHT</text>
<text x="600" y="3378.9">WIDTH</text>
<text x="600" y="3401.6">HEIGHT</text>
<text x="600" y="3424.3">LEN</text>
<text x="600" y="3447">STDCOST</text>
<text x="600" y="3469.7">DEFAULTBOMID</text>
<text x="600" y="3492.4">TAXID</text>
<text x="600" y="3515.1">ALERTNOTE</text>
<text x="600" y="3537.7">&lt; 12</text><text class="r" x="796" y="3537.7">15 &gt;</text>
</g>

<text x="14" y="3706" style="font-size:11px;letter-spacing:0.6px">Generated by SchemaSpy</text>
</svg>
